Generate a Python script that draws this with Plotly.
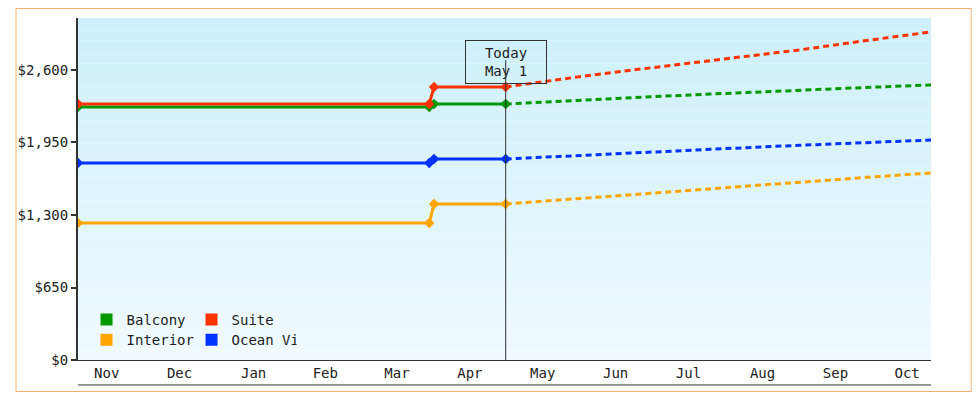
import plotly.graph_objects as go

# observed prices (step change at end of March)
obs_dates = ['2023-11-04', '2024-03-30', '2024-04-01', '2024-05-01']
balcony_obs = [2268, 2268, 2295, 2295]
suite_obs = [2295, 2295, 2448, 2448]
interior_obs = [1228, 1228, 1399, 1399]
ocean_obs = [1766, 1766, 1802, 1802]

# forecast
fc_dates = ['2024-05-01', '2024-06-01', '2024-07-01', '2024-08-01', '2024-09-01', '2024-10-01', '2024-10-26']
balcony_fc = [2295, 2330, 2360, 2390, 2420, 2445, 2466]
suite_fc = [2448, 2540, 2620, 2700, 2780, 2870, 2941]
interior_fc = [1399, 1445, 1495, 1545, 1595, 1640, 1677]
ocean_fc = [1802, 1835, 1865, 1895, 1925, 1950, 1972]

yticks = [0, 650, 1300, 1950, 2600]
ytick_labels = ['$0', '$650', '$1,300', '$1,950', '$2,600']

series = [
    ('Balcony', '#009900', balcony_obs, balcony_fc, 'legend'),
    ('Suite', '#ff3300', suite_obs, suite_fc, 'legend'),
    ('Interior', '#ffa500', interior_obs, interior_fc, 'legend2'),
    ('Ocean View', '#0033ff', ocean_obs, ocean_fc, 'legend2'),
]

font = 'DejaVu Sans Mono'
fig = go.Figure()
for name, col, obs, fc, lg in series:
    fig.add_trace(go.Scatter(x=obs_dates, y=obs, mode='lines+markers', showlegend=False,
                             line=dict(color=col, width=3), marker=dict(color=col, size=8, symbol='diamond')))
    fig.add_trace(go.Scatter(x=fc_dates, y=fc, mode='lines', showlegend=False,
                             line=dict(color=col, width=3, dash='6px,4px')))
    fig.add_trace(go.Scatter(x=[None], y=[None], mode='markers', name=name, legend=lg,
                             marker=dict(color=col, size=12, symbol='square')))

# gradient background
shapes = []
n = 30
top = (0xcd, 0xf0, 0xfb)
bot = (0xf0, 0xfa, 0xff)
for i in range(n):
    t = i / (n - 1)
    c = tuple(int(top[k] + (bot[k] - top[k]) * t) for k in range(3))
    shapes.append(dict(type='rect', xref='paper', yref='paper', x0=0, x1=1,
                       y0=1 - (i + 1) / n, y1=1 - i / n, layer='below', line_width=0,
                       fillcolor='rgb(%d,%d,%d)' % c))
shapes.append(dict(type='line', xref='x', yref='paper', x0='2024-05-01', x1='2024-05-01',
                   y0=0, y1=0.877, line=dict(color='#333333', width=1)))
shapes.append(dict(type='line', xref='paper', yref='paper', x0=0, x1=1, y0=-0.073, y1=-0.073,
                   line=dict(color='#333333', width=1)))
shapes.append(dict(type='rect', xref='paper', yref='paper', x0=-62.5 / 860, x1=1 + 40.5 / 860,
                   y0=-31.5 / 342, y1=1 + 9.5 / 342, line=dict(color='#f0b070', width=1)))

fig.update_layout(
    width=964, height=384, margin=dict(l=63, r=41, t=10, b=32),
    paper_bgcolor='white', plot_bgcolor='rgba(0,0,0,0)',
    font=dict(family=font, size=14, color='#222222'),
    shapes=shapes,
    xaxis=dict(type='date', range=['2023-11-04', '2024-10-26'], dtick='M1', tick0='2023-11-01',
               tickformat='%b', ticklabelmode='period', ticks='outside', ticklen=0,
               minor=dict(dtick='M1', tick0='2023-11-01', ticks='outside', ticklen=25,
                          tickcolor='#333333', showgrid=False),
               showgrid=False, showline=True, linecolor='#333333',
               linewidth=1, zeroline=False),
    yaxis=dict(range=[0, 3066], tickvals=yticks, ticktext=ytick_labels, ticks='outside',
               ticklen=5, tickwidth=2, tickcolor='#333333', showgrid=False, showline=True,
               linecolor='#333333', linewidth=2, zeroline=False),
    legend=dict(orientation='h', x=0.01, y=0.117, yanchor='middle', bgcolor='rgba(0,0,0,0)',
                entrywidth=60, font=dict(size=14), itemwidth=30),
    legend2=dict(orientation='h', x=0.01, y=0.058, yanchor='middle', bgcolor='rgba(0,0,0,0)',
                 entrywidth=60, font=dict(size=14), itemwidth=30),
    annotations=[dict(x='2024-05-01', y=0.936, xref='x', yref='paper', text='Today<br>May 1',
                      showarrow=False, bgcolor='rgba(0,0,0,0)', bordercolor='#333333', borderwidth=1,
                      borderpad=4, width=72, font=dict(size=14))],
)
fig.write_html('out.html')
